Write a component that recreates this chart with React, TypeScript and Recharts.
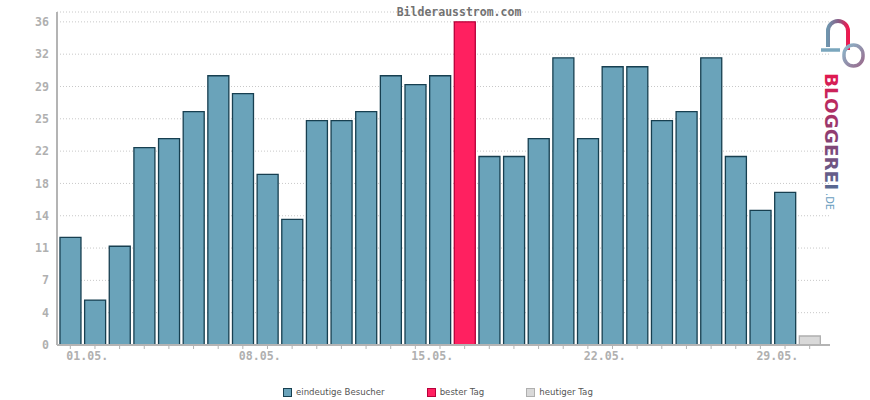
import React from 'react';
import { BarChart, Bar, XAxis, YAxis, CartesianGrid, Cell } from 'recharts';

const days = [
  '01.05.', '02.05.', '03.05.', '04.05.', '05.05.', '06.05.', '07.05.', '08.05.',
  '09.05.', '10.05.', '11.05.', '12.05.', '13.05.', '14.05.', '15.05.', '16.05.',
  '17.05.', '18.05.', '19.05.', '20.05.', '21.05.', '22.05.', '23.05.', '24.05.',
  '25.05.', '26.05.', '27.05.', '28.05.', '29.05.', '30.05.', '31.05.',
];
const visitors = [
  12, 5, 11, 22, 23, 26, 30, 28, 19, 14, 25, 25, 26, 30, 29, 30,
  36, 21, 21, 23, 32, 23, 31, 31, 25, 26, 32, 21, 15, 17, 1,
];
const xLabelDays = ['01.05.', '08.05.', '15.05.', '22.05.', '29.05.'];
const yTicks = [0, 3.6, 7.2, 10.8, 14.4, 18, 21.6, 25.2, 28.8, 32.4, 36];
const legendLabels = ['eindeutige Besucher', 'bester Tag', 'heutiger Tag'];
const title = 'Bilderausstrom.com';

const COLORS = [
  { fill: '#6aa3ba', stroke: '#173f50' },
  { fill: '#ff2060', stroke: '#b8003a' },
  { fill: '#d9d9d9', stroke: '#afafaf' },
];

const data = days.map((day, i) => ({ day, value: visitors[i] }));
const todayIdx = visitors.length - 1;
const pastVals = visitors.slice(0, todayIdx);
const bestIdx = pastVals.indexOf(Math.max(...pastVals));

const kindOf = (i: number) => (i === todayIdx ? 2 : i === bestIdx ? 1 : 0);

const axisGray = '#b4b4b4';
const tickFont = { fontFamily: '"DejaVu Sans Mono", monospace', fontWeight: 700, fontSize: 11.6, fill: '#b0b0b0' };

const XTick = (props: any) => {
  const { x, y, payload } = props;
  if (!xLabelDays.includes(payload.value)) return null;
  return (
    <text x={x - 4} y={y} dy={9} textAnchor="start" style={tickFont}>
      {payload.value}
    </text>
  );
};

const Logo = () => (
  <svg width={870} height={400} style={{ position: 'absolute', left: 0, top: 0, pointerEvents: 'none' }}>
    <defs>
      <linearGradient id="bellGrad" x1="0" y1="0" x2="1" y2="0">
        <stop offset="0%" stopColor="#6f94ad" />
        <stop offset="55%" stopColor="#8a5a84" />
        <stop offset="100%" stopColor="#f0184f" />
      </linearGradient>
      <linearGradient id="ringGrad" x1="0" y1="0" x2="1" y2="1">
        <stop offset="0%" stopColor="#8ab8cc" />
        <stop offset="100%" stopColor="#9a6a8c" />
      </linearGradient>
      <linearGradient id="textGrad" x1="0" y1="0" x2="1" y2="0">
        <stop offset="0%" stopColor="#e3184f" />
        <stop offset="55%" stopColor="#8a3f72" />
        <stop offset="100%" stopColor="#566a92" />
      </linearGradient>
    </defs>
    <text x={459} y={16} textAnchor="middle"
      style={{ fontFamily: '"DejaVu Sans Mono", monospace', fontWeight: 700, fontSize: 11.5, fill: '#727272' }}>
      {title}
    </text>
    <path d="M 828 47 L 828 31 A 10 10 0 0 1 848 31 L 848 50" fill="none" stroke="url(#bellGrad)" strokeWidth={4} />
    <path d="M 821 50 L 840 50" fill="none" stroke="#7aa6bd" strokeWidth={3.5} />
    <rect x={844} y={45} width={19} height={21} rx={9.5} fill="none" stroke="url(#ringGrad)" strokeWidth={3.5} />
    <g transform="translate(825, 73) rotate(90)">
      <text x={0} y={0} textLength={117} lengthAdjust="spacingAndGlyphs"
        style={{ fontFamily: '"DejaVu Sans", sans-serif', fontWeight: 700, fontSize: 17.5, fill: 'url(#textGrad)' }}>
        BLOGGEREI
      </text>
      <text x={120} y={-1} textLength={17} lengthAdjust="spacingAndGlyphs"
        style={{ fontFamily: '"DejaVu Sans", sans-serif', fontSize: 10, fill: '#6a9ec0' }}>
        .DE
      </text>
    </g>
  </svg>
);

const LegendBox = () => (
  <div style={{ position: 'absolute', left: 283, top: 387, display: 'flex', gap: 42, alignItems: 'center' }}>
    {legendLabels.map((label, i) => (
      <div key={label} style={{ display: 'flex', alignItems: 'center' }}>
        <span style={{ width: 7, height: 7, background: COLORS[i].fill, border: `1px solid ${COLORS[i].stroke}`, display: 'inline-block' }} />
        <span style={{ marginLeft: 4, fontFamily: '"DejaVu Sans", sans-serif', fontSize: 8.6, color: '#555', lineHeight: '10px' }}>
          {label}
        </span>
      </div>
    ))}
  </div>
);

export default function App() {
  return (
    <div style={{ position: 'absolute', left: 0, top: 0, width: 870, height: 400, background: '#fff' }}>
      <BarChart width={870} height={400} data={data} margin={{ top: 12, right: 40, left: 0, bottom: 25 }} barCategoryGap="8%">
        <CartesianGrid horizontal vertical={false} stroke="#c8c8c8" strokeDasharray="1 2" />
        <XAxis
          dataKey="day"
          height={30}
          interval={0}
          padding={{ left: 1, right: 8 }}
          axisLine={{ stroke: axisGray, strokeWidth: 2 }}
          tickLine={{ stroke: axisGray }}
          tickSize={4}
          tickMargin={2}
          tick={<XTick />}
        />
        <YAxis
          width={57}
          domain={[0, 37.1]}
          ticks={yTicks}
          interval={0}
          allowDecimals
          tickFormatter={(v: number) => String(Math.round(v))}
          axisLine={{ stroke: axisGray, strokeWidth: 2 }}
          tickLine={false}
          tickSize={0}
          tickMargin={8}
          tick={tickFont}
        />
        <Bar dataKey="value" isAnimationActive={false} strokeWidth={1.3}>
          {data.map((d, i) => (
            <Cell key={d.day} fill={COLORS[kindOf(i)].fill} stroke={COLORS[kindOf(i)].stroke} />
          ))}
        </Bar>
      </BarChart>
      <Logo />
      <LegendBox />
    </div>
  );
}
